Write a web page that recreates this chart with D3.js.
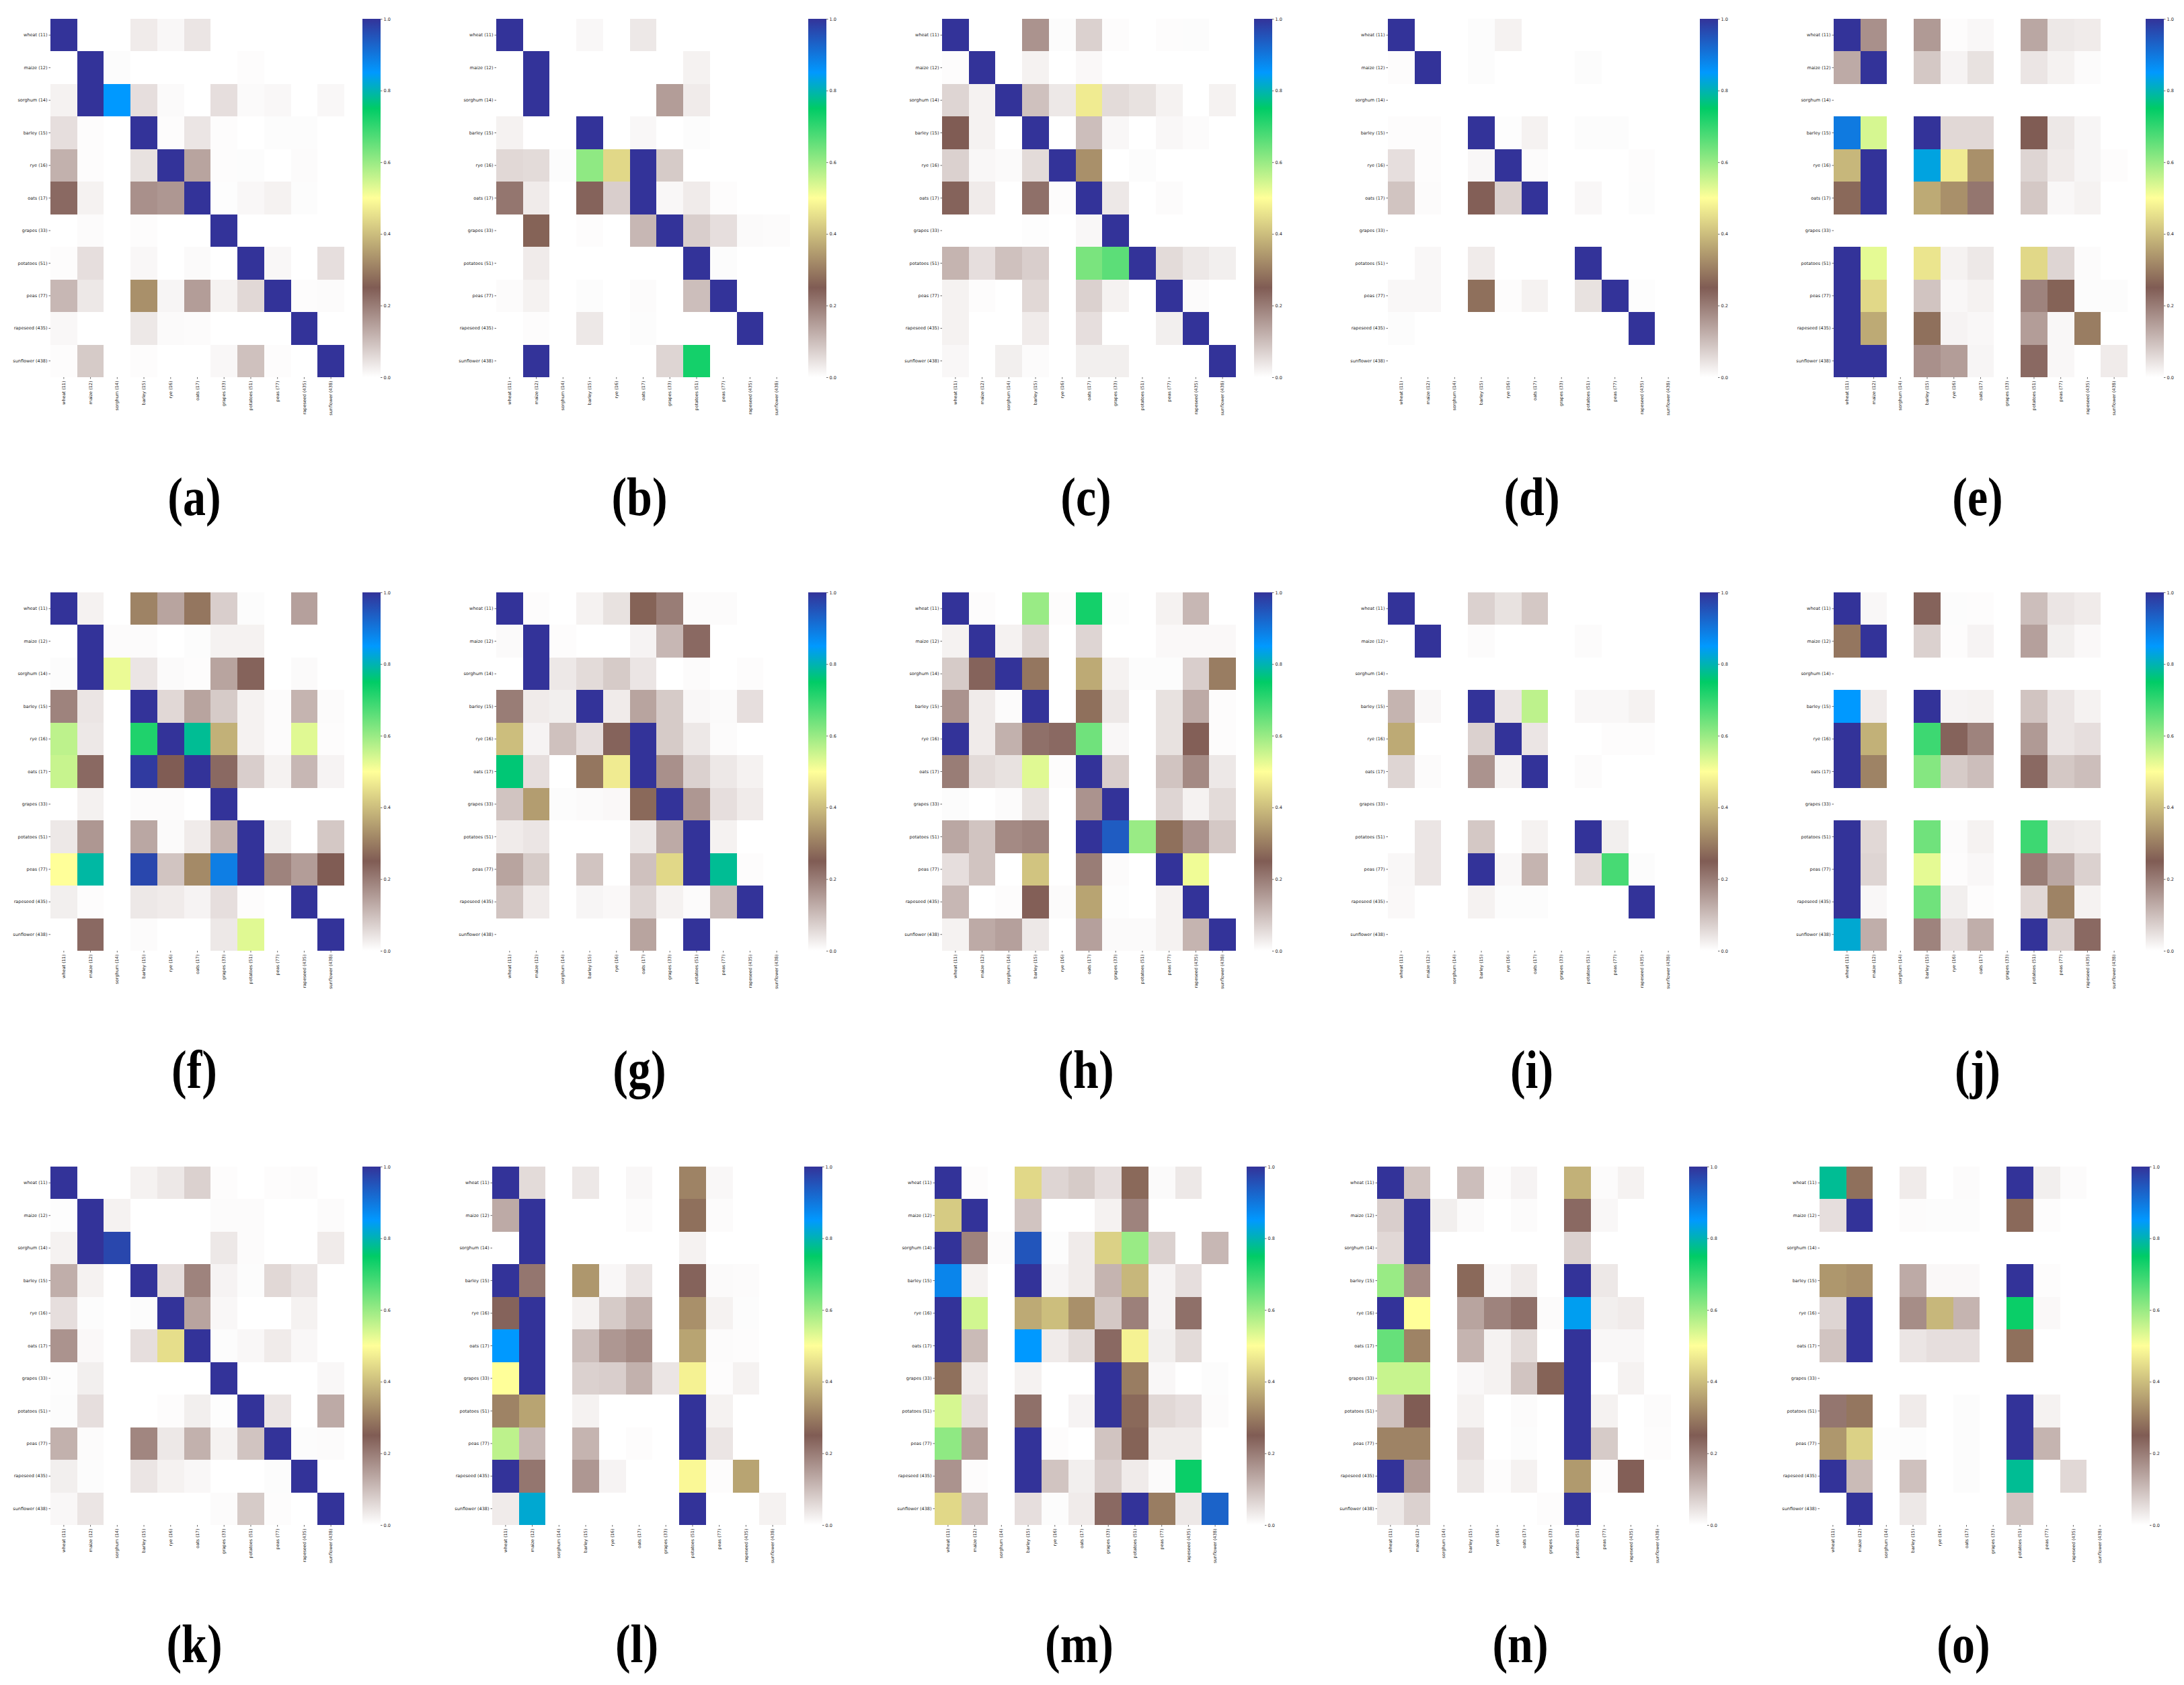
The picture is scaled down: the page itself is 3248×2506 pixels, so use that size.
<!DOCTYPE html>
<html>
<head>
<meta charset="utf-8">
<title>Crop confusion matrices</title>
<script src="https://cdnjs.cloudflare.com/ajax/libs/d3/7.8.5/d3.min.js"></script>
<style>
  html, body { margin: 0; padding: 0; background: #fff; }
  svg { display: block; }
  .tick text { font-family: "DejaVu Sans", sans-serif; font-size: 6.5px; fill: #262626; }
  .tick line { stroke: #262626; stroke-width: 0.7; }
  .domain { display: none; }
  .caption { font-family: "Liberation Serif", serif; font-weight: bold; font-size: 80px; fill: #000; text-anchor: middle; }
</style>
</head>
<body>
<div id="chart"></div>
<script>
// DATA

const crops = ["wheat (11)", "maize (12)", "sorghum (14)", "barley (15)", "rye (16)", "oats (17)",
  "grapes (33)", "potatoes (51)", "peas (77)", "rapeseed (435)", "sunflower (438)"];
const captions = ["(a)", "(b)", "(c)", "(d)", "(e)", "(f)", "(g)", "(h)", "(i)", "(j)", "(k)", "(l)", "(m)", "(n)", "(o)"];
const colorbarTicks = [0, 0.2, 0.4, 0.6, 0.8, 1];

// terrain_r colormap
const colorStops = [0, 0.25, 0.5, 0.75, 0.85, 1];
const colorValues = ["#ffffff", "#805c54", "#ffff99", "#00cc66", "#0099ff", "#333399"];

const empty = [0, 0, 0, 0, 0, 0, 0, 0, 0, 0, 0];

const matrixA = [
  [1, 0, 0, .03, .012, .04, 0, 0, 0, 0, 0],
  [0, 1, .005, 0, 0, 0, 0, .004, 0, 0, 0],
  [.02, 1, .85, .05, .008, 0, .05, .008, .012, 0, .012],
  [.05, .004, 0, 1, .004, .04, .004, 0, .005, .005, 0],
  [.12, .004, 0, .045, 1, .14, .004, .005, 0, .006, 0],
  [.23, .02, 0, .17, .16, 1, .003, .012, .02, .005, 0],
  [0, .006, 0, .004, 0, 0, 1, 0, 0, 0, 0],
  [.004, .05, 0, .012, 0, .008, 0, 1, .012, 0, .05],
  [.11, .035, 0, .33, .015, .15, .02, .06, 1, .004, .006],
  [.012, 0, 0, .035, .008, .006, 0, 0, 0, 1, 0],
  [.004, .08, 0, .004, 0, 0, .012, .095, .004, 0, 1],
];
const matrixB = [
  [1, 0, 0, .012, 0, .035, 0, 0, 0, 0, 0],
  [0, 1, 0, 0, 0, 0, 0, .02, 0, 0, 0],
  [0, 1, 0, 0, 0, 0, .15, .03, 0, 0, 0],
  [.02, 0, 0, 1, 0, .012, 0, .005, 0, 0, 0],
  [.06, .055, .005, .61, .44, 1, .08, 0, 0, 0, 0],
  [.21, .03, 0, .24, .075, 1, .012, .03, .004, 0, 0],
  [0, .26, 0, .004, 0, .11, 1, .075, .05, .008, .006],
  [0, .03, 0, 0, 0, 0, 0, 1, .005, 0, 0],
  [.006, .02, 0, .005, 0, .006, 0, .1, 1, 0, 0],
  [0, .004, 0, .035, 0, .005, 0, 0, 0, 1, 0],
  [0, 1, 0, 0, 0, 0, .065, .73, 0, 0, 0],
];
const matrixC = [
  [1, 0, 0, .165, .005, .07, .004, 0, .004, .005, 0],
  [.004, 1, 0, .02, 0, .01, 0, 0, 0, 0, 0],
  [.065, .02, 1, .095, .035, .47, .055, .045, .02, 0, .02],
  [.25, .02, 0, 1, 0, .1, .012, 0, .012, .006, 0],
  [.07, .012, .008, .055, 1, .33, 0, .005, 0, 0, 0],
  [.24, .03, 0, .22, .004, 1, .035, 0, .006, 0, 0],
  [0, 0, 0, .003, 0, .012, 1, 0, 0, 0, 0],
  [.115, .05, .095, .075, 0, .63, .66, 1, .055, .035, .025],
  [.02, .004, 0, .06, 0, .07, .02, 0, 1, .006, 0],
  [.02, 0, 0, .03, 0, .05, 0, 0, .025, 1, 0],
  [.012, 0, .025, .006, 0, .025, .025, 0, 0, 0, 1],
];
const matrixD = [
  [1, 0, 0, .005, .02, 0, 0, 0, 0, 0, 0],
  [.004, 1, 0, .005, 0, 0, 0, .005, 0, 0, 0],
  empty,
  [.004, .004, 0, 1, .003, .02, 0, .005, .005, 0, 0],
  [.05, .004, 0, .012, 1, .006, 0, 0, 0, .004, 0],
  [.09, .006, 0, .245, .07, 1, 0, .012, 0, .005, 0],
  empty,
  [0, .012, 0, .03, 0, 0, 0, 1, 0, 0, 0],
  [.012, .012, 0, .28, .004, .02, 0, .045, 1, .003, 0],
  [.005, 0, 0, 0, 0, 0, 0, 0, 0, 1, 0],
  empty,
];
const matrixE = [
  [1, .17, 0, .155, .004, .012, 0, .135, .035, .03, 0],
  [.13, 1, 0, .085, .018, .045, 0, .04, .02, .006, 0],
  empty,
  [.895, .54, 0, 1, .06, .06, 0, .25, .035, .015, 0],
  [.39, 1, 0, .83, .47, .33, 0, .065, .03, .015, .004],
  [.27, 1, 0, .37, .33, .21, 0, .085, .012, .02, 0],
  empty,
  [1, .525, 0, .46, .02, .035, 0, .44, .065, .006, 0],
  [1, .44, 0, .09, .012, .02, 0, .19, .26, .005, .005],
  [1, .37, 0, .28, .018, .012, 0, .15, .012, .30, 0],
  [1, 1, 0, .17, .15, .015, 0, .23, .012, 0, .03],
];
const matrixF = [
  [1, .02, 0, .31, .14, .29, .075, .005, 0, .145, 0],
  [0, 1, .006, .006, 0, .005, .02, .02, 0, 0, 0],
  [.005, 1, .52, .04, .008, .004, .14, .24, 0, .008, 0],
  [.19, .04, 0, 1, .06, .14, .08, .02, .006, .115, .006],
  [.565, .035, 0, .72, 1, .78, .38, .02, .006, .53, .004],
  [.555, .23, 0, .99, .25, 1, .23, .075, .02, .11, .018],
  [0, .022, 0, .006, .006, 0, 1, 0, 0, 0, 0],
  [.035, .16, 0, .135, .008, .03, .115, 1, .025, 0, .085],
  [.5, .79, 0, .97, .09, .32, .89, 1, .19, .15, .25],
  [.025, .004, 0, .035, .03, .018, .05, .004, 0, 1, 0],
  [0, .23, 0, .006, 0, 0, .035, .53, 0, 0, 1],
];
const matrixG = [
  [1, .004, 0, .02, .045, .26, .2, .006, .006, 0, 0],
  [.008, 1, .004, 0, 0, .018, .11, .23, 0, 0, 0],
  [0, 1, .035, .055, .08, .04, 0, .006, 0, .004, 0],
  [.2, .03, .025, 1, .03, .14, .08, .012, .008, .05, 0],
  [.4, .018, .095, .05, .24, 1, .08, .035, .006, 0, 0],
  [.76, .05, 0, .29, .47, 1, .17, .07, .035, .02, 0],
  [.09, .35, .005, .008, .01, .27, 1, .16, .05, .03, 0],
  [.03, .04, 0, 0, 0, .035, .13, 1, .02, 0, 0],
  [.14, .08, 0, .09, 0, .095, .44, 1, .78, .004, 0],
  [.09, .03, 0, .015, .01, .065, .02, .006, .1, 1, 0],
  [0, 0, 0, 0, 0, .14, 0, 1, 0, 0, 0],
];
const matrixH = [
  [1, .004, 0, .6, .004, .73, .003, 0, .02, .11, 0],
  [.02, 1, .02, .065, 0, .065, 0, 0, .01, .01, .01],
  [.08, .24, 1, .29, 0, .37, .02, .005, .005, .075, .3],
  [.165, .03, .006, 1, 0, .28, .035, 0, .045, .13, .004],
  [1, .03, .12, .22, .23, .64, .012, 0, .045, .245, .004],
  [.2, .055, .045, .53, .004, 1, .075, 0, .09, .18, .035],
  [.005, 0, .006, .045, 0, .165, 1, 0, .065, .02, .055],
  [.135, .09, .18, .19, 0, 1, .94, .6, .28, .165, .085],
  [.05, .09, 0, .41, 0, .2, .006, 0, 1, .515, 0],
  [.11, 0, .004, .245, .006, .36, .003, 0, .02, 1, 0],
  [.02, .13, .145, .035, 0, .145, .008, .008, .02, .115, 1],
];
const matrixI = [
  [1, 0, 0, .07, .045, .085, 0, 0, 0, 0, 0],
  [0, 1, 0, .006, 0, 0, 0, .006, 0, 0, 0],
  empty,
  [.115, .012, 0, 1, .04, .565, 0, .012, .012, .02, 0],
  [.37, 0, 0, .07, 1, .04, 0, 0, .004, .004, 0],
  [.065, .006, 0, .165, .02, 1, 0, .006, 0, 0, 0],
  empty,
  [0, .04, 0, .085, 0, .02, 0, 1, .025, 0, 0],
  [.012, .04, 0, 1, .012, .115, 0, .055, .68, .005, 0],
  [.01, 0, 0, .02, .005, .005, 0, 0, 0, 1, 0],
  empty,
];
const matrixJ = [
  [1, .012, 0, .24, .005, .004, 0, .1, .04, .03, 0],
  [.29, 1, 0, .07, .004, .018, 0, .145, .025, .01, 0],
  empty,
  [.85, .03, 0, 1, .018, .02, 0, .09, .04, .02, 0],
  [1, .38, 0, .69, .24, .19, 0, .155, .04, .05, 0],
  [1, .31, 0, .62, .08, .10, 0, .23, .085, .1, 0],
  empty,
  [1, .06, 0, .64, .006, .02, 0, .69, .035, .03, 0],
  [1, .065, 0, .525, .004, .012, 0, .2, .135, .07, 0],
  [1, .012, 0, .64, .025, .004, 0, .06, .31, .02, 0],
  [.82, .125, 0, .19, .05, .125, 0, 1, .07, .23, 0],
];
const matrixK = [
  [1, 0, 0, .02, .035, .07, .004, 0, .004, .006, 0],
  [.003, 1, .02, 0, 0, 0, .006, .006, 0, 0, .006],
  [.02, 1, .97, 0, 0, 0, .035, .006, 0, 0, .03],
  [.125, .02, 0, 1, .05, .19, .018, .005, .06, .04, 0],
  [.05, .005, 0, .005, 1, .14, .012, 0, 0, .02, 0],
  [.165, .01, 0, .05, .45, 1, .005, .012, .03, .012, 0],
  [.003, .025, 0, 0, 0, 0, 1, 0, 0, 0, .012],
  [.005, .05, 0, 0, .004, .025, .003, 1, .04, 0, .13],
  [.12, .006, 0, .185, .035, .12, .02, .09, 1, .005, .006],
  [.025, .005, 0, .04, .02, .012, 0, 0, .005, 1, 0],
  [.012, .04, 0, 0, 0, 0, .006, .08, .004, 0, 1],
];
const matrixL = [
  [1, .055, 0, .035, 0, .012, 0, .31, .012, 0, 0],
  [.13, 1, 0, 0, 0, .006, 0, .28, .006, 0, 0],
  [0, 1, 0, 0, 0, 0, 0, .02, 0, 0, 0],
  [1, .21, 0, .34, .012, .04, 0, .24, .008, .006, 0],
  [.24, 1, 0, .02, .08, .12, 0, .33, .02, .005, 0],
  [.85, 1, 0, .1, .16, .18, 0, .36, .006, .004, 0],
  [.5, 1, 0, .07, .075, .12, .04, .48, .004, .02, 0],
  [.31, .36, 0, .02, 0, 0, 0, 1, .02, 0, 0],
  [.565, .11, 0, .115, 0, .004, 0, 1, .04, 0, 0],
  [1, .21, 0, .16, .018, 0, 0, .49, .004, .36, 0],
  [.03, .82, 0, 0, 0, 0, 0, 1, 0, 0, .02],
];
const matrixM = [
  [1, .004, 0, .44, .065, .08, .05, .27, .008, .035, 0],
  [.42, 1, 0, .09, 0, 0, .02, .19, 0, 0, 0],
  [1, .19, .006, .95, .005, .03, .43, .60, .07, 0, .11],
  [.88, .02, 0, 1, .015, .03, .115, .39, .018, .05, 0],
  [1, .545, 0, .37, .4, .33, .085, .195, .018, .22, 0],
  [1, .105, 0, .85, .03, .055, .23, .48, .025, .055, 0],
  [.28, .03, 0, .02, 0, 0, 1, .3, .012, 0, .005],
  [.54, .05, 0, .22, 0, .018, 1, .27, .06, .05, .006],
  [.61, .15, 0, 1, .004, 0, .09, .26, .03, .03, 0],
  [.165, .004, 0, 1, .09, .025, .075, .03, .008, .74, 0],
  [.44, .095, 0, .05, .005, .03, .23, 1, .3, .035, .93],
];
const matrixN = [
  [1, .09, 0, .1, .004, .018, 0, .38, .006, .02, 0],
  [.075, 1, .025, .008, 0, .006, 0, .23, .012, 0, 0],
  [.06, 1, 0, 0, 0, 0, 0, .07, 0, 0, 0],
  [.6, .18, 0, .27, .012, .03, 0, 1, .035, 0, 0],
  [1, .5, 0, .14, .19, .22, .006, .84, .025, .03, 0],
  [.65, .31, 0, .115, .02, .055, 0, 1, .012, .012, 0],
  [.555, .555, 0, .012, .02, .09, .26, 1, 0, .02, 0],
  [.095, .25, 0, .02, 0, .006, 0, 1, .02, 0, .006],
  [.31, .31, 0, .05, 0, .005, 0, 1, .08, 0, .004],
  [1, .155, 0, .035, .004, .02, 0, .345, .004, .245, 0],
  [.035, .07, 0, 0, 0, 0, .004, 1, 0, 0, 0],
];
const matrixO = [
  [.78, .28, 0, .03, 0, .006, 0, 1, .025, .006, 0],
  [.05, 1, 0, .006, .005, .005, 0, .27, .004, 0, 0],
  empty,
  [.34, .33, 0, .13, .01, .01, 0, 1, .004, 0, 0],
  [.065, 1, 0, .175, .39, .115, 0, .74, .01, 0, 0],
  [.09, 1, 0, .04, .05, .05, 0, .28, 0, 0, 0],
  empty,
  [.21, .29, 0, .03, 0, .005, 0, 1, .02, 0, 0],
  [.34, .43, .003, .005, 0, .005, 0, 1, .115, 0, 0],
  [1, .105, 0, .095, 0, .005, 0, .78, 0, .06, 0],
  [0, 1, 0, .035, 0, 0, 0, .09, 0, 0, 0],
];
const matrices = [matrixA, matrixB, matrixC, matrixD, matrixE, matrixF, matrixG, matrixH,
  matrixI, matrixJ, matrixK, matrixL, matrixM, matrixN, matrixO];

// LAYOUT

const WIDTH = 3248, HEIGHT = 2506;
const MAP_W = 437, MAP_H = 533;
const BAR_GAP = 27, BAR_W = 27;
const TICK = 2.5;

// left edge of each heatmap, top edge and caption spot per row
const panelLeft = [75, 738, 1401, 2064, 2727, 75, 738, 1401, 2064, 2727, 75, 732, 1390, 2048, 2706];
const captionX = [289, 951, 1615, 2278, 2941, 289, 951, 1615, 2278, 2941, 289, 947, 1605, 2261, 2920];
const rowTop = [28, 881, 1735];
const captionY = [766, 1618, 2472];

const color = d3.scaleLinear().domain(colorStops).range(colorValues).clamp(true);

const svg = d3.select("#chart").append("svg").attr("width", WIDTH).attr("height", HEIGHT);

// gradient shared by all colorbars
svg.append("defs").append("linearGradient")
  .attr("id", "terrain")
  .attr("x1", 0).attr("y1", 1).attr("x2", 0).attr("y2", 0)
  .selectAll("stop")
  .data(colorStops)
  .join("stop")
  .attr("offset", d => d)
  .attr("stop-color", d => color(d));

// HEATMAP

function drawPanel(matrix, i) {
  const row = Math.floor(i / 5);
  const g = svg.append("g").attr("transform", `translate(${panelLeft[i]},${rowTop[row]})`);

  const x = d3.scaleBand().domain(crops).range([0, MAP_W]);
  const y = d3.scaleBand().domain(crops).range([0, MAP_H]);

  const cells = matrix.flatMap((vals, ri) => vals.map((v, ci) => ({ r: crops[ri], c: crops[ci], v })));
  g.append("g").selectAll("rect")
    .data(cells)
    .join("rect")
    .attr("x", d => x(d.c))
    .attr("y", d => y(d.r))
    .attr("width", x.bandwidth() + 0.3)
    .attr("height", y.bandwidth() + 0.3)
    .attr("fill", d => color(d.v))
    .attr("shape-rendering", "crispEdges");

  g.append("g").call(d3.axisLeft(y).tickSize(TICK).tickPadding(2));

  const xAxis = g.append("g").attr("transform", `translate(0,${MAP_H})`)
    .call(d3.axisBottom(x).tickSize(TICK).tickPadding(2));
  xAxis.selectAll("text")
    .attr("transform", "rotate(-90)")
    .attr("text-anchor", "end")
    .attr("x", -(TICK + 3))
    .attr("y", 0)
    .attr("dy", "0.32em");

  // colorbar
  const bar = g.append("g").attr("transform", `translate(${MAP_W + BAR_GAP},0)`);
  const barScale = d3.scaleLinear().domain([0, 1]).range([MAP_H, 0]);
  bar.append("rect")
    .attr("width", BAR_W)
    .attr("height", MAP_H)
    .attr("fill", "url(#terrain)");
  bar.append("g").attr("transform", `translate(${BAR_W},0)`)
    .call(d3.axisRight(barScale).tickValues(colorbarTicks).tickFormat(d3.format(".1f")).tickSize(TICK).tickPadding(2));

  // narrowed a bit, the caption face in the original is tall and tight
  svg.append("text")
    .attr("class", "caption")
    .attr("transform", `translate(${captionX[i]},${captionY[row]}) scale(0.85,1)`)
    .text(captions[i]);
}

matrices.forEach(drawPanel);
</script>
</body>
</html>
